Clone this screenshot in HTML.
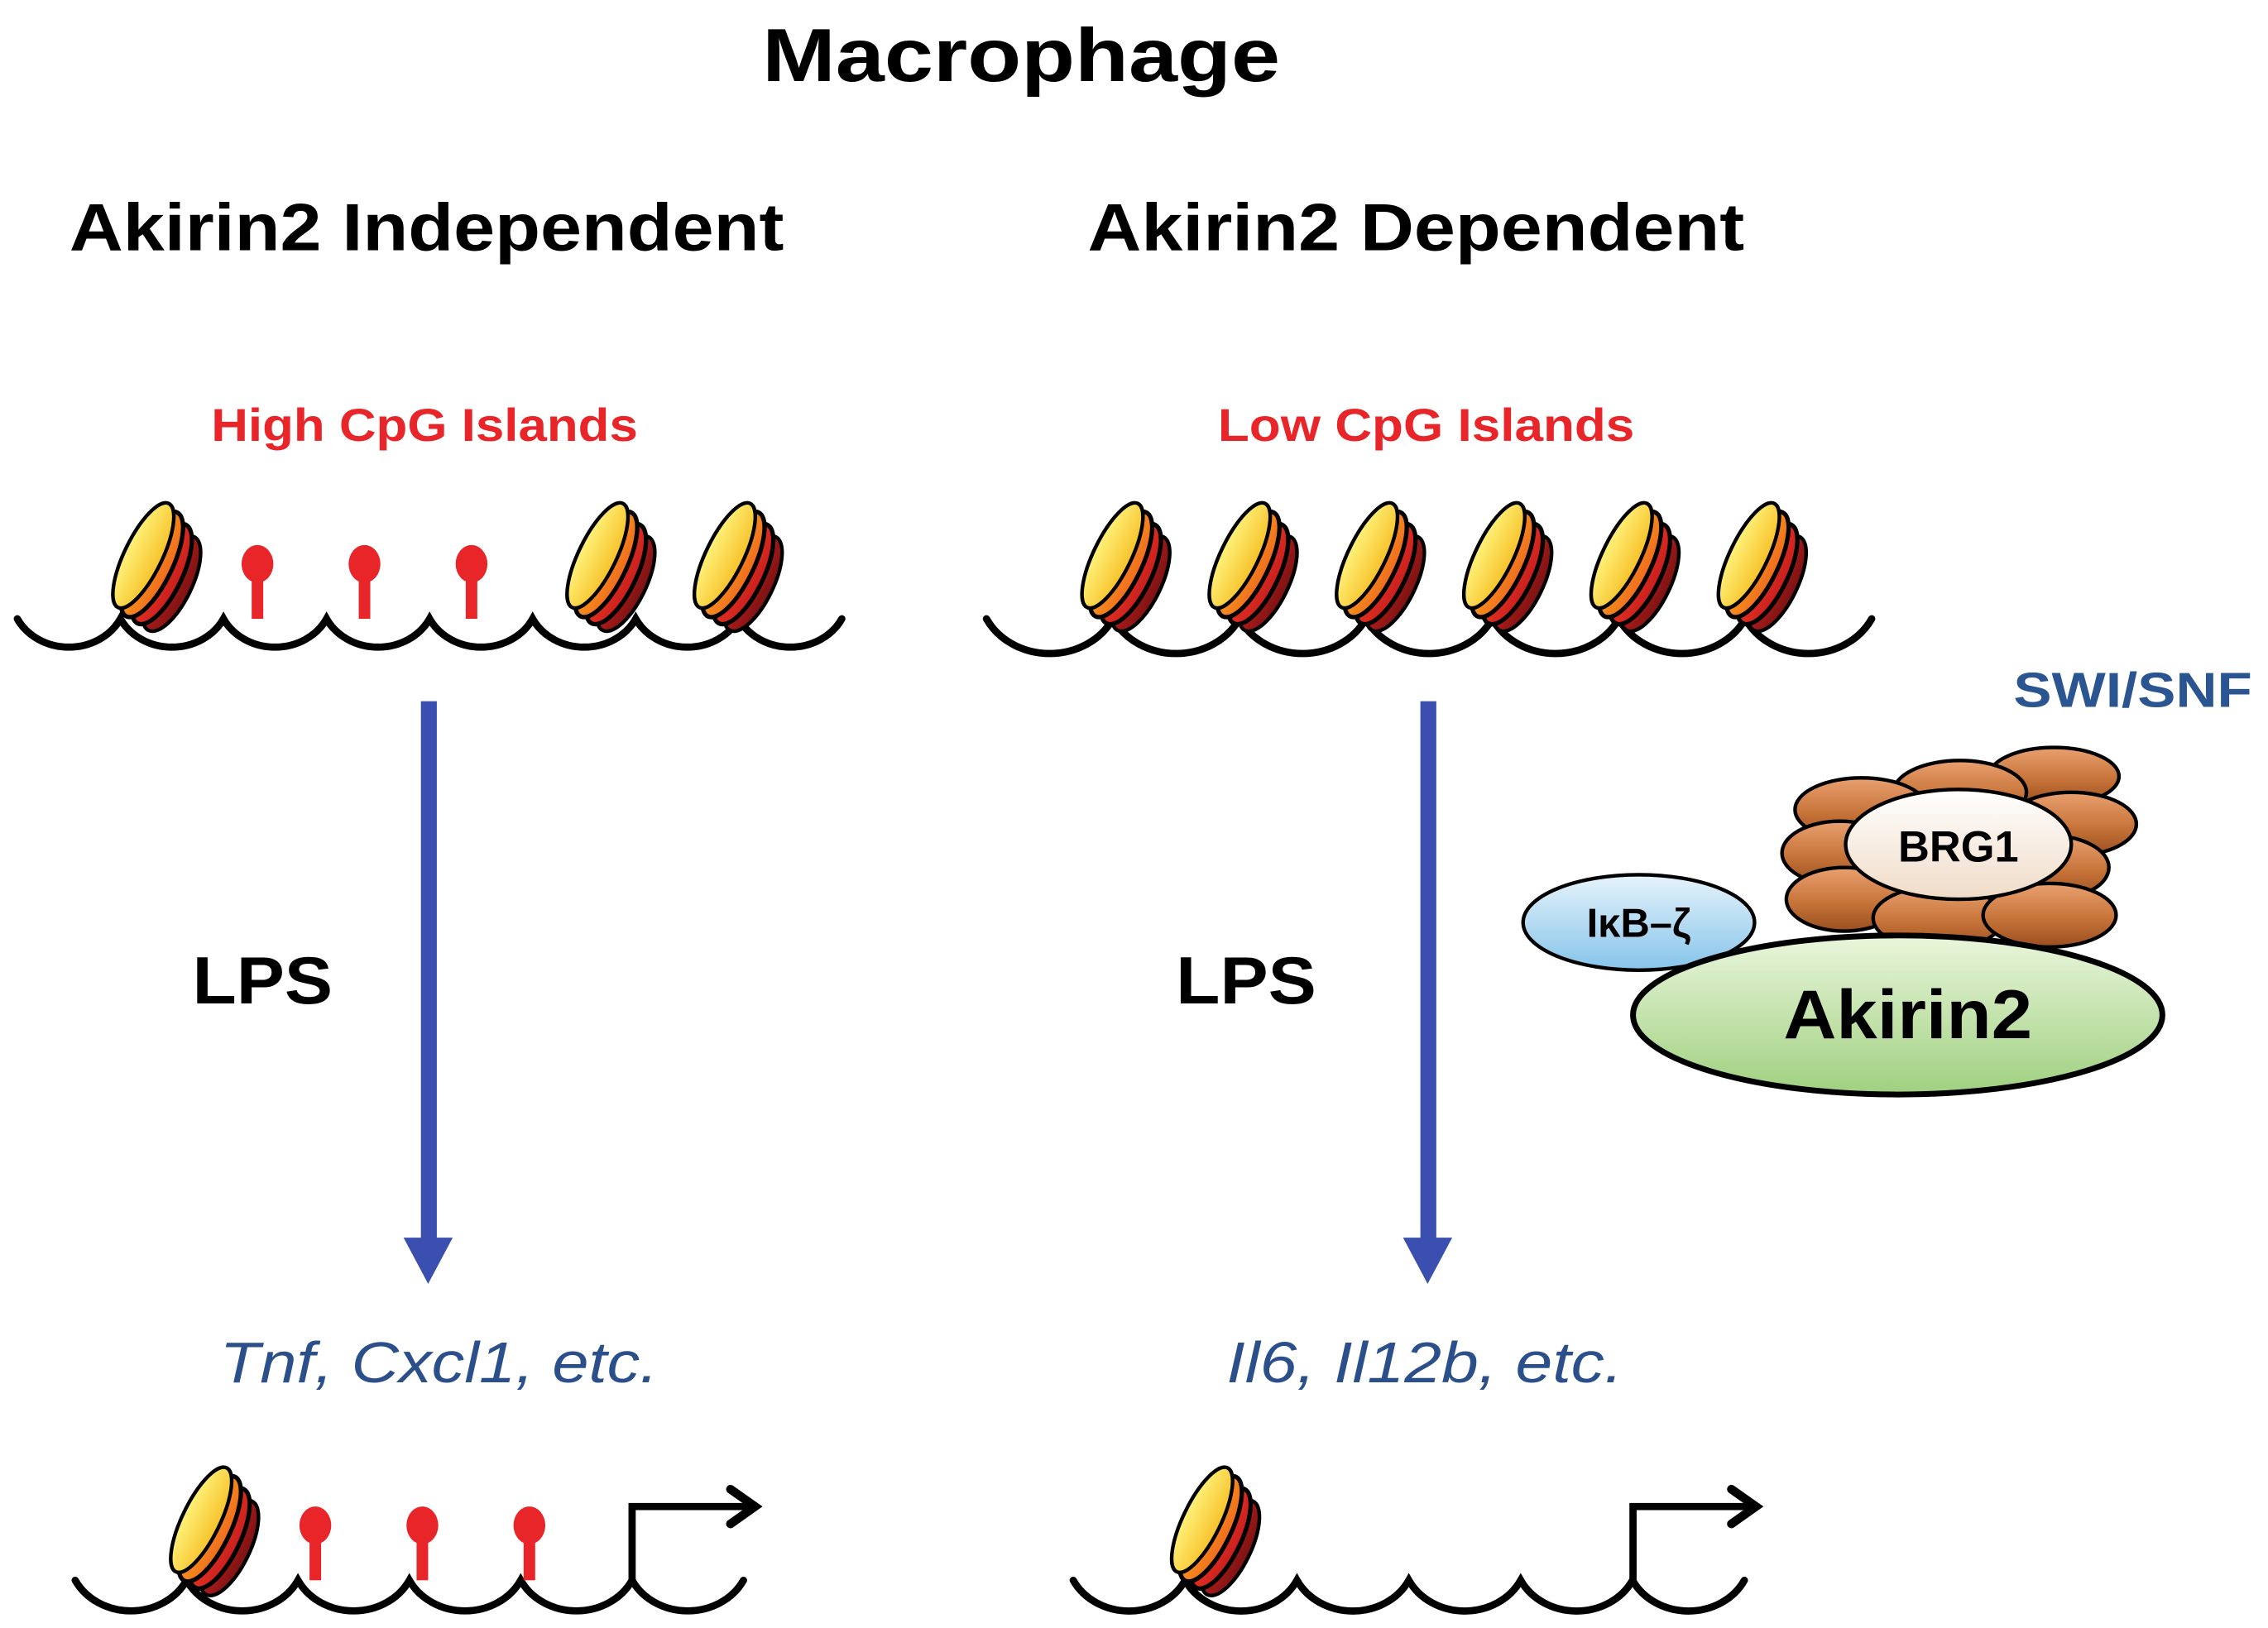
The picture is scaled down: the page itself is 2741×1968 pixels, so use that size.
<!DOCTYPE html>
<html><head><meta charset="utf-8"><style>
html,body{margin:0;padding:0;background:#fff;}
svg{display:block}
text{font-family:"Liberation Sans",Arial,sans-serif;}
</style></head><body>
<svg id="s" width="2741" height="1968" viewBox="0 0 1568 1126" preserveAspectRatio="none" xmlns="http://www.w3.org/2000/svg">
<defs>
<linearGradient id="gy" x1="0" y1="0" x2="1" y2="0"><stop offset="0" stop-color="#fff27a"/><stop offset="1" stop-color="#f7c12a"/></linearGradient>
<linearGradient id="go" x1="0" y1="0" x2="1" y2="0"><stop offset="0" stop-color="#f9a41c"/><stop offset="1" stop-color="#ef6a1e"/></linearGradient>
<linearGradient id="gr" x1="0" y1="0" x2="1" y2="0"><stop offset="0" stop-color="#ee3a22"/><stop offset="1" stop-color="#c81e1e"/></linearGradient>
<linearGradient id="gd" x1="0" y1="0" x2="1" y2="0"><stop offset="0" stop-color="#c82020"/><stop offset="1" stop-color="#7a1212"/></linearGradient>
<linearGradient id="gb" x1="0" y1="0" x2="0" y2="1"><stop offset="0" stop-color="#e9a070"/><stop offset="0.55" stop-color="#c77439"/><stop offset="1" stop-color="#9a4e1f"/></linearGradient>
<linearGradient id="gg" x1="0" y1="0" x2="0" y2="1"><stop offset="0" stop-color="#eaf6dc"/><stop offset="1" stop-color="#9fd07f"/></linearGradient>
<linearGradient id="gl" x1="0" y1="0" x2="0" y2="1"><stop offset="0" stop-color="#e6f3fb"/><stop offset="1" stop-color="#86c4ea"/></linearGradient>
<linearGradient id="gw" x1="0" y1="0" x2="0" y2="1"><stop offset="0" stop-color="#ffffff"/><stop offset="1" stop-color="#f0dcc8"/></linearGradient>
<g id="nuc" transform="rotate(26)">
<ellipse cx="28" cy="6" rx="14" ry="36" fill="url(#gd)" stroke="#000" stroke-width="2.5"/>
<ellipse cx="19" cy="3" rx="14" ry="38" fill="url(#gr)" stroke="#000" stroke-width="3"/>
<ellipse cx="10" cy="0" rx="14" ry="40" fill="url(#go)" stroke="#000" stroke-width="3"/>
<ellipse cx="2" cy="-3" rx="13" ry="40" fill="url(#gy)" stroke="#000" stroke-width="2.5"/>
</g>
<g id="pin"><rect x="-4" y="0" width="8" height="38" fill="#e8262a"/><ellipse cx="0" cy="0" rx="11" ry="13" fill="#e8262a"/></g>
</defs>

<g font-weight="bold" lengthAdjust="spacingAndGlyphs">
<text x="527" y="56" font-size="52" textLength="358" lengthAdjust="spacingAndGlyphs">Macrophage</text>
<text x="48" y="173" font-size="46" textLength="494" lengthAdjust="spacingAndGlyphs">Akirin2 Independent</text>
<text x="752" y="173" font-size="46" textLength="454" lengthAdjust="spacingAndGlyphs">Akirin2 Dependent</text>
<text x="146" y="305" font-size="32" fill="#e8262a" textLength="295" lengthAdjust="spacingAndGlyphs">High CpG Islands</text>
<text x="842" y="305" font-size="32" fill="#e8262a" textLength="288" lengthAdjust="spacingAndGlyphs">Low CpG Islands</text>
<text x="133" y="694" font-size="46" textLength="97" lengthAdjust="spacingAndGlyphs">LPS</text>
<text x="813" y="694" font-size="46" textLength="97" lengthAdjust="spacingAndGlyphs">LPS</text>
<text x="1392" y="489" font-size="34" fill="#2b5591" textLength="165" lengthAdjust="spacingAndGlyphs">SWI/SNF</text>
</g>
<text x="152" y="956" font-size="40" font-style="italic" fill="#2b4f8a" textLength="303" lengthAdjust="spacingAndGlyphs">Tnf, Cxcl1, etc.</text>
<text x="848" y="956" font-size="40" font-style="italic" fill="#2b4f8a" textLength="274" lengthAdjust="spacingAndGlyphs">Il6, Il12b, etc.</text>

<!-- arrows -->
<rect x="291" y="485" width="11" height="380" fill="#3a4fb0"/>
<polygon points="279,856 313,856 296,888" fill="#3a4fb0"/>
<rect x="982" y="485" width="11" height="380" fill="#3a4fb0"/>
<polygon points="970,856 1004,856 987,888" fill="#3a4fb0"/>

<g id="dna" fill="none" stroke="#000" stroke-width="5" stroke-linecap="round"></g>

<!-- pins -->
<use href="#pin" x="178" y="390"/><use href="#pin" x="252" y="390"/><use href="#pin" x="326" y="390"/>
<use href="#pin" x="218" y="1055"/><use href="#pin" x="292" y="1055"/><use href="#pin" x="366" y="1055"/>

<!-- nucleosomes -->
<use href="#nuc" x="96" y="386"/><use href="#nuc" x="410" y="386"/><use href="#nuc" x="498" y="386"/>
<use href="#nuc" x="766" y="386"/><use href="#nuc" x="854" y="386"/><use href="#nuc" x="942" y="386"/>
<use href="#nuc" x="1030" y="386"/><use href="#nuc" x="1118" y="386"/><use href="#nuc" x="1206" y="386"/>
<use href="#nuc" x="136" y="1053"/><use href="#nuc" x="828" y="1053"/>

<!-- promoter arrows -->
<path d="M437,1095 V1042 H518" fill="none" stroke="#000" stroke-width="5"/>
<path d="M505,1030 L522,1042 L505,1054" fill="none" stroke="#000" stroke-width="6" stroke-linecap="round"/>
<path d="M1129,1095 V1042 H1210" fill="none" stroke="#000" stroke-width="5"/>
<path d="M1197,1030 L1214,1042 L1197,1054" fill="none" stroke="#000" stroke-width="6" stroke-linecap="round"/>

<!-- complex -->
<g stroke="#000" stroke-width="2.5" fill="url(#gb)">
<ellipse cx="1420" cy="537" rx="45" ry="20"/>
<ellipse cx="1355" cy="548" rx="46" ry="22"/>
<ellipse cx="1287" cy="560" rx="46" ry="22"/>
<ellipse cx="1432" cy="570" rx="45" ry="22"/>
<ellipse cx="1272" cy="590" rx="40" ry="22"/>
<ellipse cx="1418" cy="600" rx="40" ry="22"/>
<ellipse cx="1275" cy="622" rx="40" ry="22"/>
<ellipse cx="1340" cy="635" rx="45" ry="22"/>
<ellipse cx="1417" cy="633" rx="46" ry="22"/>
</g>
<ellipse cx="1354" cy="584" rx="78" ry="38" fill="url(#gw)" stroke="#000" stroke-width="2.5"/>
<text x="1354" y="596" font-size="30" font-weight="bold" text-anchor="middle">BRG1</text>
<ellipse cx="1133" cy="638" rx="80" ry="33" fill="url(#gl)" stroke="#000" stroke-width="2.5"/>
<text x="1133" y="648" font-size="28" font-weight="bold" text-anchor="middle">IκB–ζ</text>
<ellipse cx="1312" cy="702" rx="183" ry="55" fill="url(#gg)" stroke="#000" stroke-width="4"/>
<text x="1233" y="718" font-size="48" font-weight="bold" textLength="172" lengthAdjust="spacingAndGlyphs">Akirin2</text>
</svg>
<script>
function strand(x0,x1,y,n){var w=(x1-x0)/n,d="M"+x0+","+y;for(var i=0;i<n;i++){d+=" A"+(w*0.56)+","+(w*0.5)+" 0 0 0 "+(x0+(i+1)*w)+","+y;}return d;}
var g=document.getElementById("dna");
[[12,582,428,8],[682,1294,428,7],[52,514,1093,6],[742,1206,1093,6]].forEach(function(a){var p=document.createElementNS("http://www.w3.org/2000/svg","path");p.setAttribute("d",strand(a[0],a[1],a[2],a[3]));g.appendChild(p);});
</script>
</body></html>
